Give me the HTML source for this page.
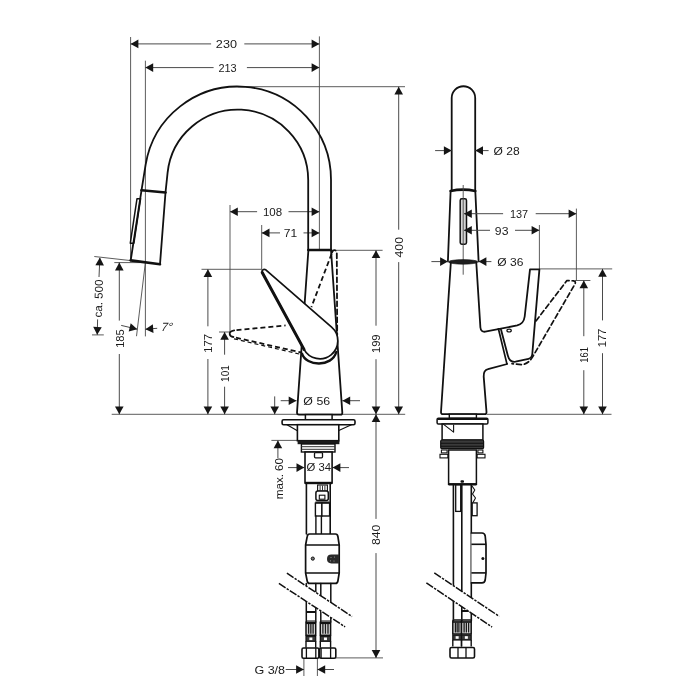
<!DOCTYPE html>
<html><head><meta charset="utf-8"><style>
html,body{margin:0;padding:0;background:#fff;}
svg{display:block;}
.tx{will-change:transform;}
text{font-family:"Liberation Sans",sans-serif;fill:#1a1a1a;}
</style></head><body>
<svg width="700" height="700" viewBox="0 0 700 700">
<rect width="700" height="700" fill="#fff"/>
<line x1="130.6" y1="37" x2="130.6" y2="260.4" stroke="#4a4a4a" stroke-width="0.9" />
<line x1="145.4" y1="60.7" x2="145.4" y2="336.4" stroke="#4a4a4a" stroke-width="0.9" />
<line x1="319.4" y1="36.4" x2="319.4" y2="250" stroke="#4a4a4a" stroke-width="0.9" />
<line x1="238" y1="86.7" x2="405" y2="86.7" stroke="#4a4a4a" stroke-width="0.9" />
<line x1="337" y1="250.3" x2="382.6" y2="250.3" stroke="#4a4a4a" stroke-width="0.9" />
<line x1="111.7" y1="414.3" x2="405.2" y2="414.3" stroke="#4a4a4a" stroke-width="0.9" />
<line x1="335.7" y1="657.9" x2="383" y2="657.9" stroke="#4a4a4a" stroke-width="0.9" />
<line x1="230" y1="205" x2="230" y2="332" stroke="#4a4a4a" stroke-width="0.9" />
<line x1="261.7" y1="225" x2="261.7" y2="269" stroke="#4a4a4a" stroke-width="0.9" />
<line x1="201.5" y1="269.3" x2="262" y2="269.3" stroke="#4a4a4a" stroke-width="0.9" />
<line x1="219" y1="332" x2="231" y2="332" stroke="#4a4a4a" stroke-width="0.9" />
<line x1="114.3" y1="262.6" x2="145.4" y2="262.6" stroke="#4a4a4a" stroke-width="0.9" />
<line x1="94.3" y1="256.5" x2="130.7" y2="260.6" stroke="#4a4a4a" stroke-width="0.9" />
<line x1="92" y1="334.9" x2="103.8" y2="334.9" stroke="#4a4a4a" stroke-width="0.9" />
<line x1="130.6" y1="43.9" x2="211.1" y2="43.9" stroke="#4a4a4a" stroke-width="1.0" />
<line x1="244.3" y1="43.9" x2="319.4" y2="43.9" stroke="#4a4a4a" stroke-width="1.0" />
<polygon points="130.60,43.90 138.40,39.60 138.40,48.20" fill="#151515"/>
<polygon points="319.40,43.90 311.60,48.20 311.60,39.60" fill="#151515"/>
<line x1="145.4" y1="67.6" x2="213.6" y2="67.6" stroke="#4a4a4a" stroke-width="1.0" />
<line x1="246.9" y1="67.6" x2="319.4" y2="67.6" stroke="#4a4a4a" stroke-width="1.0" />
<polygon points="145.40,67.60 153.20,63.30 153.20,71.90" fill="#151515"/>
<polygon points="319.40,67.60 311.60,71.90 311.60,63.30" fill="#151515"/>
<line x1="230" y1="211.7" x2="257.1" y2="211.7" stroke="#4a4a4a" stroke-width="1.0" />
<line x1="288.5" y1="211.7" x2="319.4" y2="211.7" stroke="#4a4a4a" stroke-width="1.0" />
<polygon points="230.00,211.70 237.80,207.40 237.80,216.00" fill="#151515"/>
<polygon points="319.40,211.70 311.60,216.00 311.60,207.40" fill="#151515"/>
<line x1="261.7" y1="232.9" x2="280" y2="232.9" stroke="#4a4a4a" stroke-width="1.0" />
<line x1="303.5" y1="232.9" x2="319.4" y2="232.9" stroke="#4a4a4a" stroke-width="1.0" />
<polygon points="261.70,232.90 269.50,228.60 269.50,237.20" fill="#151515"/>
<polygon points="319.40,232.90 311.60,237.20 311.60,228.60" fill="#151515"/>
<line x1="398.7" y1="86.7" x2="398.7" y2="229.7" stroke="#4a4a4a" stroke-width="1.0" />
<line x1="398.7" y1="262.1" x2="398.7" y2="414.3" stroke="#4a4a4a" stroke-width="1.0" />
<polygon points="398.70,86.70 403.00,94.50 394.40,94.50" fill="#151515"/>
<polygon points="398.70,414.30 394.40,406.50 403.00,406.50" fill="#151515"/>
<line x1="376" y1="250.3" x2="376" y2="325.7" stroke="#4a4a4a" stroke-width="1.0" />
<line x1="376" y1="359.2" x2="376" y2="414.3" stroke="#4a4a4a" stroke-width="1.0" />
<polygon points="376.00,250.30 380.30,258.10 371.70,258.10" fill="#151515"/>
<polygon points="376.00,414.30 371.70,406.50 380.30,406.50" fill="#151515"/>
<line x1="376" y1="414.3" x2="376" y2="518.9" stroke="#4a4a4a" stroke-width="1.0" />
<line x1="376" y1="553.1" x2="376" y2="657.9" stroke="#4a4a4a" stroke-width="1.0" />
<polygon points="376.00,414.30 380.30,422.10 371.70,422.10" fill="#151515"/>
<polygon points="376.00,657.90 371.70,650.10 380.30,650.10" fill="#151515"/>
<line x1="207.9" y1="269.3" x2="207.9" y2="326.3" stroke="#4a4a4a" stroke-width="1.0" />
<line x1="207.9" y1="359.0" x2="207.9" y2="414.3" stroke="#4a4a4a" stroke-width="1.0" />
<polygon points="207.90,269.30 212.20,277.10 203.60,277.10" fill="#151515"/>
<polygon points="207.90,414.30 203.60,406.50 212.20,406.50" fill="#151515"/>
<line x1="224.6" y1="332" x2="224.6" y2="354.7" stroke="#4a4a4a" stroke-width="1.0" />
<line x1="224.6" y1="386.7" x2="224.6" y2="414.3" stroke="#4a4a4a" stroke-width="1.0" />
<polygon points="224.60,332.00 228.90,339.80 220.30,339.80" fill="#151515"/>
<polygon points="224.60,414.30 220.30,406.50 228.90,406.50" fill="#151515"/>
<line x1="119.3" y1="262.6" x2="119.3" y2="320.6" stroke="#4a4a4a" stroke-width="1.0" />
<line x1="119.3" y1="354" x2="119.3" y2="414.3" stroke="#4a4a4a" stroke-width="1.0" />
<polygon points="119.30,262.60 123.60,270.40 115.00,270.40" fill="#151515"/>
<polygon points="119.30,414.30 115.00,406.50 123.60,406.50" fill="#151515"/>
<line x1="99.85" y1="258" x2="99.0" y2="277" stroke="#4a4a4a" stroke-width="1.0" />
<line x1="97.6" y1="319.4" x2="97.25" y2="334.8" stroke="#4a4a4a" stroke-width="1.0" />
<polygon points="99.90,257.50 103.93,265.44 95.34,265.15" fill="#151515"/>
<polygon points="97.20,334.80 93.17,326.86 101.76,327.15" fill="#151515"/>
<line x1="145.4" y1="262.4" x2="136.5" y2="336.2" stroke="#4a4a4a" stroke-width="0.9" />
<line x1="121.2" y1="325.4" x2="137.3" y2="329.2" stroke="#4a4a4a" stroke-width="1.0" />
<polygon points="137.30,329.20 128.72,331.59 130.70,323.22" fill="#151515"/>
<line x1="157.2" y1="328.3" x2="145.4" y2="329.2" stroke="#4a4a4a" stroke-width="1.0" />
<polygon points="145.40,329.20 152.85,324.32 153.50,332.89" fill="#151515"/>
<line x1="280.7" y1="400.7" x2="296.5" y2="400.7" stroke="#4a4a4a" stroke-width="1.0" />
<polygon points="296.50,400.70 288.70,405.00 288.70,396.40" fill="#151515"/>
<line x1="342.4" y1="400.7" x2="360" y2="400.7" stroke="#4a4a4a" stroke-width="1.0" />
<polygon points="342.40,400.70 350.20,396.40 350.20,405.00" fill="#151515"/>
<line x1="274.7" y1="396.4" x2="274.7" y2="414.3" stroke="#4a4a4a" stroke-width="1.0" />
<polygon points="274.70,414.30 270.40,406.50 279.00,406.50" fill="#151515"/>
<line x1="271.4" y1="440.4" x2="297" y2="440.4" stroke="#4a4a4a" stroke-width="0.9" />
<line x1="277.9" y1="440.4" x2="277.9" y2="458" stroke="#4a4a4a" stroke-width="1.0" />
<polygon points="277.90,440.40 282.20,448.20 273.60,448.20" fill="#151515"/>
<line x1="288" y1="467.6" x2="304.3" y2="467.6" stroke="#4a4a4a" stroke-width="1.0" />
<polygon points="304.30,467.60 296.50,471.90 296.50,463.30" fill="#151515"/>
<line x1="332.6" y1="467.6" x2="349" y2="467.6" stroke="#4a4a4a" stroke-width="1.0" />
<polygon points="332.60,467.60 340.40,463.30 340.40,471.90" fill="#151515"/>
<line x1="303.9" y1="658.3" x2="303.9" y2="676" stroke="#4a4a4a" stroke-width="0.9" />
<line x1="317.4" y1="658.3" x2="317.4" y2="676" stroke="#4a4a4a" stroke-width="0.9" />
<line x1="285.7" y1="669.5" x2="303.9" y2="669.5" stroke="#4a4a4a" stroke-width="1.0" />
<polygon points="303.90,669.50 296.10,673.80 296.10,665.20" fill="#151515"/>
<line x1="317.4" y1="669.5" x2="334" y2="669.5" stroke="#4a4a4a" stroke-width="1.0" />
<polygon points="317.40,669.50 325.20,665.20 325.20,673.80" fill="#151515"/>
<path d="M 141.5 190.3 L 145.6 164.9 A 93.3 93.3 0 0 1 331 180 L 331 250" stroke="#111" stroke-width="1.8" fill="none" stroke-linejoin="round" stroke-linecap="round" />
<path d="M 165.5 192.5 L 167.6 172.6 A 70.5 70.5 0 0 1 308.2 180 L 308.2 250" stroke="#111" stroke-width="1.8" fill="none" stroke-linejoin="round" stroke-linecap="round" />
<path d="M 141.5 190.3 L 130.7 260.4" stroke="#111" stroke-width="1.8" fill="none" stroke-linejoin="round" stroke-linecap="round" />
<path d="M 165.5 192.5 L 160 264.3" stroke="#111" stroke-width="1.8" fill="none" stroke-linejoin="round" stroke-linecap="round" />
<path d="M 141.5 190.3 L 165.5 192.5" stroke="#111" stroke-width="2.6" fill="none" stroke-linejoin="round" stroke-linecap="round" />
<path d="M 130.7 260.4 L 160 264.3" stroke="#111" stroke-width="2.6" fill="none" stroke-linejoin="round" stroke-linecap="round" />
<path d="M 137.0 198.7 L 140.6 198.7 L 133.9 243.2 L 130.3 243.2 Z" stroke="#111" stroke-width="1.5" fill="none" stroke-linejoin="round" stroke-linecap="round" />
<path d="M 308.4 250 L 331 250" stroke="#111" stroke-width="2.6" fill="none" stroke-linejoin="round" stroke-linecap="round" />
<path d="M 308.4 250 L 297 412.5 Q 297 414.6 299 414.6 L 340.5 414.6 Q 342.5 414.6 342.3 412.5 L 331 250" stroke="#111" stroke-width="1.8" fill="none" stroke-linejoin="round" stroke-linecap="round" />
<path d="M 332 252.5 Q 332.5 250.2 334.5 250.2 Q 336.8 250.2 336.8 253 L 337.2 335" stroke="#111" stroke-width="1.8" fill="none" stroke-linejoin="round" stroke-linecap="round" stroke-dasharray="5 3"/>
<line x1="331.6" y1="253.8" x2="311.4" y2="307.1" stroke="#111" stroke-width="1.8" stroke-dasharray="5 3"/>
<path d="M 234.2 330.4 Q 229.4 331.2 229.7 334.1 Q 230.1 336.7 233.4 337" stroke="#111" stroke-width="1.8" fill="none" stroke-linejoin="round" stroke-linecap="round" />
<line x1="236.5" y1="330.1" x2="285.6" y2="325.4" stroke="#111" stroke-width="1.8" stroke-dasharray="5 3"/>
<line x1="236" y1="337.7" x2="301" y2="352.4" stroke="#111" stroke-width="1.8" stroke-dasharray="5 3"/>
<line x1="234" y1="338.8" x2="300.5" y2="354.3" stroke="#111" stroke-width="1.2" stroke-dasharray="4 3"/>
<path d="M 262.2 272.5 L 304 349.4 A 18 18 0 1 0 331.6 327.2 L 265.8 269.8 Q 263.5 268.6 262.2 270.5 Z" stroke="#111" stroke-width="1.7" fill="#fff" stroke-linejoin="round" stroke-linecap="round" />
<path d="M 262.2 272.5 L 304 349.4" stroke="#111" stroke-width="3.0" fill="none" stroke-linejoin="round" stroke-linecap="round" />
<path d="M 302 353.7 C 306 366.5 332 367.5 336.3 352" stroke="#111" stroke-width="2.4" fill="none" stroke-linejoin="round" stroke-linecap="round" />
<rect x="305.4" y="414.6" width="26.7" height="5.1" fill="#fff" stroke="#111" stroke-width="1.5"/>
<rect x="282.1" y="419.7" width="72.9" height="5" rx="1.5" fill="#fff" stroke="#111" stroke-width="1.6"/>
<path d="M 287 424.7 L 297.4 430.7" stroke="#111" stroke-width="1.2" fill="none" stroke-linejoin="round" stroke-linecap="round" />
<path d="M 351.4 424.7 L 338.3 430.7" stroke="#111" stroke-width="1.2" fill="none" stroke-linejoin="round" stroke-linecap="round" />
<rect x="297.4" y="424.7" width="41.4" height="16" fill="#fff" stroke="#111" stroke-width="1.6"/>
<rect x="297.6" y="440.4" width="41.8" height="3.8" fill="#1a1a1a"/>
<rect x="301.4" y="444" width="33.6" height="8" fill="#fff" stroke="#111" stroke-width="1.4"/>
<line x1="301.4" y1="446.7" x2="335" y2="446.7" stroke="#333" stroke-width="1.0" />
<line x1="301.4" y1="449.3" x2="335" y2="449.3" stroke="#333" stroke-width="1.0" />
<rect x="305" y="452" width="27.1" height="31" fill="#fff" stroke="#111" stroke-width="1.6"/>
<rect x="314.5" y="452.6" width="8" height="5.2" rx="1" fill="#fff" stroke="#111" stroke-width="1.3"/>
<line x1="305" y1="483" x2="332.1" y2="483" stroke="#111" stroke-width="2.4" />
<line x1="306.4" y1="483" x2="306.4" y2="534" stroke="#111" stroke-width="1.6" stroke-linecap="round"/>
<line x1="330.2" y1="483" x2="330.2" y2="534" stroke="#111" stroke-width="1.6" stroke-linecap="round"/>
<rect x="317.6" y="485" width="9.8" height="6.1" fill="#fff" stroke="#111" stroke-width="1.1"/>
<line x1="320.1" y1="485.5" x2="320.1" y2="490.6" stroke="#333" stroke-width="1.0" />
<line x1="322.5" y1="485.5" x2="322.5" y2="490.6" stroke="#333" stroke-width="1.0" />
<line x1="324.9" y1="485.5" x2="324.9" y2="490.6" stroke="#333" stroke-width="1.0" />
<rect x="315.9" y="491.1" width="12.4" height="9.5" rx="2" fill="#fff" stroke="#111" stroke-width="1.5"/>
<rect x="319.3" y="495.2" width="5.6" height="4" fill="#fff" stroke="#111" stroke-width="1.1"/>
<line x1="315.4" y1="502.2" x2="329.6" y2="502.2" stroke="#111" stroke-width="1.4" />
<rect x="315.4" y="503.1" width="6.5" height="12.9" fill="#fff" stroke="#111" stroke-width="1.4"/>
<rect x="321.9" y="503.1" width="7.7" height="12.9" fill="#fff" stroke="#111" stroke-width="1.4"/>
<line x1="315.9" y1="516" x2="315.9" y2="534" stroke="#111" stroke-width="1.4" stroke-linecap="round"/>
<line x1="321.4" y1="516" x2="321.4" y2="534" stroke="#111" stroke-width="1.4" stroke-linecap="round"/>
<path d="M 309.5 534 L 335.5 534 Q 337.5 534 337.9 536.5 L 339.2 545 L 339.2 573 L 337.9 581 Q 337.5 583.4 335.5 583.4 L 309.5 583.4 Q 307.6 583.4 307.2 581 L 305.6 573 L 305.6 545 L 307.2 536.5 Q 307.6 534 309.5 534 Z" stroke="#111" stroke-width="1.7" fill="#fff" stroke-linejoin="round" stroke-linecap="round" />
<line x1="305.6" y1="545" x2="339.2" y2="545" stroke="#111" stroke-width="1.6" />
<line x1="305.6" y1="573" x2="339.2" y2="573" stroke="#111" stroke-width="1.6" />
<circle cx="312.8" cy="558.6" r="1.6" fill="#777" stroke="#111" stroke-width="1"/>
<path d="M 339.2 554.6 L 331.4 554.6 Q 327 554.6 327 559 Q 327 563.4 331.4 563.4 L 339.2 563.4 Z" fill="#2a2a2a"/>
<circle cx="331" cy="557.5" r="0.6" fill="#999"/><circle cx="334.5" cy="557" r="0.6" fill="#999"/><circle cx="330.5" cy="560.8" r="0.6" fill="#999"/><circle cx="334" cy="561" r="0.6" fill="#999"/>
<line x1="315.8" y1="583.6" x2="315.8" y2="622" stroke="#111" stroke-width="1.5" stroke-linecap="round"/>
<line x1="320.8" y1="583.6" x2="320.8" y2="622" stroke="#111" stroke-width="1.5" stroke-linecap="round"/>
<line x1="330.8" y1="583.6" x2="330.8" y2="622" stroke="#111" stroke-width="1.5" stroke-linecap="round"/>
<line x1="306.3" y1="583.6" x2="306.3" y2="622" stroke="#111" stroke-width="1.5" stroke-linecap="round"/>
<line x1="306" y1="620.9" x2="315.7" y2="620.9" stroke="#222" stroke-width="0.9" />
<rect x="306" y="622.3" width="9.699999999999989" height="13" fill="#d8d8d8" stroke="#111" stroke-width="1.5"/>
<line x1="308.6" y1="623.8" x2="308.6" y2="633.8" stroke="#1a1a1a" stroke-width="1.3" />
<line x1="310.85" y1="623.8" x2="310.85" y2="633.8" stroke="#1a1a1a" stroke-width="1.3" />
<line x1="313.1" y1="623.8" x2="313.1" y2="633.8" stroke="#1a1a1a" stroke-width="1.3" />
<line x1="306" y1="623.5" x2="315.7" y2="623.5" stroke="#111" stroke-width="1.2" />
<rect x="306" y="636.3" width="9.699999999999989" height="5" fill="#3a3a3a" stroke="#111" stroke-width="1.2"/>
<rect x="309.35" y="637.5" width="3" height="2.6" fill="#fff"/>
<line x1="306" y1="641.3" x2="306" y2="647.8" stroke="#111" stroke-width="1.4" />
<line x1="315.7" y1="641.3" x2="315.7" y2="647.8" stroke="#111" stroke-width="1.4" />
<line x1="320.3" y1="620.9" x2="330.6" y2="620.9" stroke="#222" stroke-width="0.9" />
<rect x="320.3" y="622.3" width="10.300000000000011" height="13" fill="#d8d8d8" stroke="#111" stroke-width="1.5"/>
<line x1="322.9" y1="623.8" x2="322.9" y2="633.8" stroke="#1a1a1a" stroke-width="1.3" />
<line x1="325.45" y1="623.8" x2="325.45" y2="633.8" stroke="#1a1a1a" stroke-width="1.3" />
<line x1="328.0" y1="623.8" x2="328.0" y2="633.8" stroke="#1a1a1a" stroke-width="1.3" />
<line x1="320.3" y1="623.5" x2="330.6" y2="623.5" stroke="#111" stroke-width="1.2" />
<rect x="320.3" y="636.3" width="10.300000000000011" height="5" fill="#3a3a3a" stroke="#111" stroke-width="1.2"/>
<rect x="323.95" y="637.5" width="3" height="2.6" fill="#fff"/>
<line x1="320.3" y1="641.3" x2="320.3" y2="647.8" stroke="#111" stroke-width="1.4" />
<line x1="330.6" y1="641.3" x2="330.6" y2="647.8" stroke="#111" stroke-width="1.4" />
<line x1="306" y1="612" x2="315.7" y2="612" stroke="#111" stroke-width="2.0" />
<rect x="302" y="648" width="16.899999999999977" height="10.299999999999955" rx="1.5" fill="#fff" stroke="#111" stroke-width="1.6"/>
<line x1="306.4" y1="648" x2="306.4" y2="658.3" stroke="#111" stroke-width="1.3" />
<line x1="315.8" y1="648" x2="315.8" y2="658.3" stroke="#111" stroke-width="1.3" />
<rect x="319.6" y="648" width="16.19999999999999" height="10.299999999999955" rx="1.5" fill="#fff" stroke="#111" stroke-width="1.6"/>
<line x1="321.1" y1="648" x2="321.1" y2="658.3" stroke="#111" stroke-width="1.3" />
<line x1="330.6" y1="648" x2="330.6" y2="658.3" stroke="#111" stroke-width="1.3" />
<polygon points="286.9,573.1 352,616.6 345.1,626.9 278.9,583.4" fill="#fff"/>
<line x1="286.9" y1="573.1" x2="352" y2="616.6" stroke="#111" stroke-width="1.5" stroke-dasharray="8 1.3 2.4 1.3"/>
<line x1="278.9" y1="583.4" x2="345.1" y2="626.9" stroke="#111" stroke-width="1.5" stroke-dasharray="8 1.3 2.4 1.3"/>
<path d="M 451.7 190.5 L 451.7 98 A 11.75 11.75 0 0 1 475.2 98 L 475.2 190.5" stroke="#111" stroke-width="1.8" fill="none" stroke-linejoin="round" stroke-linecap="round" />
<path d="M 450.6 191 Q 463 188.3 475.3 191" stroke="#111" stroke-width="2.6" fill="none" stroke-linejoin="round" stroke-linecap="round" />
<path d="M 450.6 191 L 447.9 261.4" stroke="#111" stroke-width="1.8" fill="none" stroke-linejoin="round" stroke-linecap="round" />
<path d="M 475.3 191 L 478.6 261.4" stroke="#111" stroke-width="1.8" fill="none" stroke-linejoin="round" stroke-linecap="round" />
<rect x="460.2" y="198.8" width="6.3" height="45.4" rx="1.6" fill="#d4d4d4" stroke="#111" stroke-width="1.5"/>
<line x1="463.2" y1="185" x2="463.2" y2="274.7" stroke="#4a4a4a" stroke-width="0.9" />
<ellipse cx="463.2" cy="261.9" rx="14.6" ry="2.3" fill="#1e1e1e" stroke="#111" stroke-width="0.6"/>
<line x1="435.1" y1="150.6" x2="451.7" y2="150.6" stroke="#4a4a4a" stroke-width="1.0" />
<polygon points="451.70,150.60 443.90,154.90 443.90,146.30" fill="#151515"/>
<line x1="475.2" y1="150.6" x2="488.6" y2="150.6" stroke="#4a4a4a" stroke-width="1.0" />
<polygon points="475.20,150.60 483.00,146.30 483.00,154.90" fill="#151515"/>
<line x1="431.4" y1="261.6" x2="447.9" y2="261.6" stroke="#4a4a4a" stroke-width="1.0" />
<polygon points="447.90,261.60 440.10,265.90 440.10,257.30" fill="#151515"/>
<line x1="478.6" y1="261.6" x2="491.4" y2="261.6" stroke="#4a4a4a" stroke-width="1.0" />
<polygon points="478.60,261.60 486.40,257.30 486.40,265.90" fill="#151515"/>
<line x1="464" y1="213.7" x2="503.1" y2="213.7" stroke="#4a4a4a" stroke-width="1.0" />
<line x1="535.7" y1="213.7" x2="576.4" y2="213.7" stroke="#4a4a4a" stroke-width="1.0" />
<polygon points="464.00,213.70 471.80,209.40 471.80,218.00" fill="#151515"/>
<polygon points="576.40,213.70 568.60,218.00 568.60,209.40" fill="#151515"/>
<line x1="464" y1="230.3" x2="490" y2="230.3" stroke="#4a4a4a" stroke-width="1.0" />
<line x1="515" y1="230.3" x2="539.4" y2="230.3" stroke="#4a4a4a" stroke-width="1.0" />
<polygon points="464.00,230.30 471.80,226.00 471.80,234.60" fill="#151515"/>
<polygon points="539.40,230.30 531.60,234.60 531.60,226.00" fill="#151515"/>
<line x1="539.4" y1="225" x2="539.4" y2="269" stroke="#4a4a4a" stroke-width="0.9" />
<line x1="576.4" y1="208.6" x2="576.4" y2="280.6" stroke="#4a4a4a" stroke-width="0.9" />
<line x1="539.4" y1="268.9" x2="612.2" y2="268.9" stroke="#4a4a4a" stroke-width="0.9" />
<line x1="575" y1="280.5" x2="590.4" y2="280.5" stroke="#4a4a4a" stroke-width="0.9" />
<line x1="486.5" y1="414.3" x2="611.5" y2="414.3" stroke="#4a4a4a" stroke-width="0.9" />
<line x1="602.5" y1="268.9" x2="602.5" y2="320.4" stroke="#4a4a4a" stroke-width="1.0" />
<line x1="602.5" y1="353.2" x2="602.5" y2="414.3" stroke="#4a4a4a" stroke-width="1.0" />
<polygon points="602.50,268.90 606.80,276.70 598.20,276.70" fill="#151515"/>
<polygon points="602.50,414.30 598.20,406.50 606.80,406.50" fill="#151515"/>
<line x1="583.8" y1="280.5" x2="583.8" y2="336.2" stroke="#4a4a4a" stroke-width="1.0" />
<line x1="583.8" y1="370.2" x2="583.8" y2="414.3" stroke="#4a4a4a" stroke-width="1.0" />
<polygon points="583.80,280.50 588.10,288.30 579.50,288.30" fill="#151515"/>
<polygon points="583.80,414.30 579.50,406.50 588.10,406.50" fill="#151515"/>
<path d="M 450.8 263 L 441 412 Q 440.9 414.2 443 414.2 L 484.5 414.2 Q 486.6 414.2 486.5 412 L 483.7 376.6 Q 483.4 370 488 369.1 L 507.2 364" stroke="#111" stroke-width="1.8" fill="none" stroke-linejoin="round" stroke-linecap="round" />
<path d="M 476.3 262.8 L 480.4 327.5 Q 480.9 332.2 485.2 331.7 L 517.2 325.4 Q 523.8 323.8 524.7 316.5 L 530 269.4 L 539.4 269.4 L 532.3 354 Q 531.8 358 528.5 358.8 L 515.5 361.7 Q 509.6 362.6 507.8 355.5 L 500.8 328.8" stroke="#111" stroke-width="1.8" fill="none" stroke-linejoin="round" stroke-linecap="round" />
<path d="M 498.4 328.8 L 506.8 363.4" stroke="#111" stroke-width="1.7" fill="none" stroke-linejoin="round" stroke-linecap="round" />
<ellipse cx="509.1" cy="330.6" rx="2.2" ry="1.4" fill="none" stroke="#111" stroke-width="1.2"/>
<path d="M 536 320.9 L 566.9 280.6 L 573.6 280.8 Q 576.2 281.4 575 284 L 532.6 356.9 Q 528 364.5 521.4 364.6 L 512 363.7" stroke="#111" stroke-width="1.7" fill="none" stroke-linejoin="round" stroke-linecap="round" stroke-dasharray="5 3"/>
<rect x="449.3" y="414.2" width="27.1" height="4.1" fill="#fff" stroke="#111" stroke-width="1.4"/>
<rect x="437.1" y="418.3" width="50.8" height="5.7" rx="1.3" fill="#fff" stroke="#111" stroke-width="1.5"/>
<line x1="437.6" y1="419" x2="487.4" y2="419" stroke="#111" stroke-width="2.2" />
<rect x="442.1" y="424" width="40.8" height="16" fill="#fff" stroke="#111" stroke-width="1.5"/>
<path d="M 443.6 424.4 L 453.6 432.1 L 453.6 425" stroke="#111" stroke-width="1.1" fill="none" stroke-linejoin="round" stroke-linecap="round" />
<rect x="440.7" y="440" width="42.9" height="8.6" rx="1.2" fill="#3a3a3a" stroke="#111" stroke-width="1.2"/>
<line x1="441" y1="443.2" x2="483.3" y2="443.2" stroke="#111" stroke-width="1.1" />
<line x1="441" y1="446.3" x2="483.3" y2="446.3" stroke="#111" stroke-width="1.1" />
<rect x="441.4" y="450" width="5.7" height="2.9" fill="#fff" stroke="#111" stroke-width="1.1"/>
<rect x="477.9" y="450" width="5" height="2.9" fill="#fff" stroke="#111" stroke-width="1.1"/>
<rect x="440" y="454.3" width="7.9" height="3.6" fill="#fff" stroke="#111" stroke-width="1.1"/>
<rect x="477.1" y="454.3" width="7.9" height="3.6" fill="#fff" stroke="#111" stroke-width="1.1"/>
<rect x="448.6" y="450" width="27.8" height="34.3" fill="#fff" stroke="#111" stroke-width="1.5"/>
<line x1="448.6" y1="484.3" x2="476.4" y2="484.3" stroke="#111" stroke-width="2.4" />
<rect x="460.5" y="480.2" width="3.5" height="2.5" rx="1" fill="#111"/>
<line x1="453.4" y1="484.3" x2="453.4" y2="621" stroke="#111" stroke-width="1.6" stroke-linecap="round"/>
<rect x="455.7" y="485" width="5" height="26.4" fill="#fff" stroke="#111" stroke-width="1.3"/>
<line x1="461.8" y1="484.3" x2="461.8" y2="621" stroke="#111" stroke-width="1.6" stroke-linecap="round"/>
<line x1="471.3" y1="484.3" x2="471.3" y2="621" stroke="#111" stroke-width="1.6" stroke-linecap="round"/>
<path d="M 472 486 L 474.8 490 L 472.5 494 L 475.5 498 L 473 502.5" stroke="#111" stroke-width="1.1" fill="none" stroke-linejoin="round" stroke-linecap="round" />
<rect x="472.2" y="502.9" width="4.9" height="12.8" fill="#fff" stroke="#111" stroke-width="1.3"/>
<path d="M 471.4 533 L 482 533 Q 484.6 533 485.2 536 L 486 544.3 L 486 573 L 485.2 580 Q 484.6 582.9 482 582.9 L 471.4 582.9" stroke="#111" stroke-width="1.7" fill="#fff" stroke-linejoin="round" stroke-linecap="round" />
<line x1="471.4" y1="544.3" x2="486" y2="544.3" stroke="#111" stroke-width="1.6" />
<line x1="471.4" y1="572.9" x2="486" y2="572.9" stroke="#111" stroke-width="1.6" />
<circle cx="482.9" cy="558.6" r="1.5" fill="#111"/>
<line x1="452.8" y1="619.6" x2="461.5" y2="619.6" stroke="#222" stroke-width="0.9" />
<rect x="452.8" y="621" width="8.699999999999989" height="13" fill="#d8d8d8" stroke="#111" stroke-width="1.5"/>
<line x1="455.4" y1="622.5" x2="455.4" y2="632.5" stroke="#1a1a1a" stroke-width="1.3" />
<line x1="457.15" y1="622.5" x2="457.15" y2="632.5" stroke="#1a1a1a" stroke-width="1.3" />
<line x1="458.9" y1="622.5" x2="458.9" y2="632.5" stroke="#1a1a1a" stroke-width="1.3" />
<line x1="452.8" y1="622.2" x2="461.5" y2="622.2" stroke="#111" stroke-width="1.2" />
<rect x="452.8" y="635" width="8.699999999999989" height="5" fill="#3a3a3a" stroke="#111" stroke-width="1.2"/>
<rect x="455.65" y="636.2" width="3" height="2.6" fill="#fff"/>
<line x1="452.8" y1="640" x2="452.8" y2="646.5" stroke="#111" stroke-width="1.4" />
<line x1="461.5" y1="640" x2="461.5" y2="646.5" stroke="#111" stroke-width="1.4" />
<line x1="461.5" y1="619.6" x2="471.2" y2="619.6" stroke="#222" stroke-width="0.9" />
<rect x="461.5" y="621" width="9.699999999999989" height="13" fill="#d8d8d8" stroke="#111" stroke-width="1.5"/>
<line x1="464.1" y1="622.5" x2="464.1" y2="632.5" stroke="#1a1a1a" stroke-width="1.3" />
<line x1="466.35" y1="622.5" x2="466.35" y2="632.5" stroke="#1a1a1a" stroke-width="1.3" />
<line x1="468.6" y1="622.5" x2="468.6" y2="632.5" stroke="#1a1a1a" stroke-width="1.3" />
<line x1="461.5" y1="622.2" x2="471.2" y2="622.2" stroke="#111" stroke-width="1.2" />
<rect x="461.5" y="635" width="9.699999999999989" height="5" fill="#3a3a3a" stroke="#111" stroke-width="1.2"/>
<rect x="464.85" y="636.2" width="3" height="2.6" fill="#fff"/>
<line x1="461.5" y1="640" x2="461.5" y2="646.5" stroke="#111" stroke-width="1.4" />
<line x1="471.2" y1="640" x2="471.2" y2="646.5" stroke="#111" stroke-width="1.4" />
<line x1="461.5" y1="611" x2="471.2" y2="611" stroke="#111" stroke-width="2.0" />
<rect x="450" y="647.5" width="24.5" height="10.5" rx="1.5" fill="#fff" stroke="#111" stroke-width="1.6"/>
<line x1="458" y1="647.5" x2="458" y2="658" stroke="#111" stroke-width="1.3" />
<line x1="466" y1="647.5" x2="466" y2="658" stroke="#111" stroke-width="1.3" />
<polygon points="434.3,572.9 499.3,616.4 492.1,627.1 426.4,582.9" fill="#fff"/>
<line x1="434.3" y1="572.9" x2="499.3" y2="616.4" stroke="#111" stroke-width="1.5" stroke-dasharray="8 1.3 2.4 1.3"/>
<line x1="426.4" y1="582.9" x2="492.1" y2="627.1" stroke="#111" stroke-width="1.5" stroke-dasharray="8 1.3 2.4 1.3"/>
<g class="tx"><text x="226.40" y="47.93" text-anchor="middle" font-size="11.5" textLength="21.07" lengthAdjust="spacingAndGlyphs">230</text>
<text x="227.55" y="71.58" text-anchor="middle" font-size="11.5" textLength="18.27" lengthAdjust="spacingAndGlyphs">213</text>
<text x="272.50" y="215.93" text-anchor="middle" font-size="11.5" textLength="19.16" lengthAdjust="spacingAndGlyphs">108</text>
<text x="290.45" y="236.93" text-anchor="middle" font-size="11.5" textLength="13.40" lengthAdjust="spacingAndGlyphs">71</text>
<g transform="translate(399.00,247.25) rotate(-90)"><text x="0" y="3.93" text-anchor="middle" font-size="11.5" textLength="20.49" lengthAdjust="spacingAndGlyphs">400</text></g>
<g transform="translate(376.00,343.75) rotate(-90)"><text x="0" y="3.93" text-anchor="middle" font-size="11.5" textLength="18.56" lengthAdjust="spacingAndGlyphs">199</text></g>
<g transform="translate(376.30,534.85) rotate(-90)"><text x="0" y="3.93" text-anchor="middle" font-size="11.5" textLength="20.48" lengthAdjust="spacingAndGlyphs">840</text></g>
<g transform="translate(207.90,343.30) rotate(-90)"><text x="0" y="3.93" text-anchor="middle" font-size="11.5" textLength="18.66" lengthAdjust="spacingAndGlyphs">177</text></g>
<g transform="translate(224.60,373.55) rotate(-90)"><text x="0" y="3.93" text-anchor="middle" font-size="11.5" textLength="16.76" lengthAdjust="spacingAndGlyphs">101</text></g>
<g transform="translate(119.80,338.60) rotate(-90)"><text x="0" y="3.93" text-anchor="middle" font-size="11.5" textLength="18.56" lengthAdjust="spacingAndGlyphs">185</text></g>
<g transform="translate(98.50,298.50) rotate(-88.1)"><text x="0" y="3.93" text-anchor="middle" font-size="11.5" textLength="37.92" lengthAdjust="spacingAndGlyphs">ca. 500</text></g>
<g transform="translate(160.2,331.4) skewX(-16)"><text x="0" y="0" font-size="12">7°</text></g>
<text x="316.75" y="404.63" text-anchor="middle" font-size="11.5" textLength="26.77" lengthAdjust="spacingAndGlyphs">Ø 56</text>
<g transform="translate(279.30,478.60) rotate(-90)"><text x="0" y="3.93" text-anchor="middle" font-size="11.5" textLength="41.23" lengthAdjust="spacingAndGlyphs">max. 60</text></g>
<text x="318.85" y="471.43" text-anchor="middle" font-size="11.5" textLength="24.58" lengthAdjust="spacingAndGlyphs">Ø 34</text>
<text x="269.75" y="674.23" text-anchor="middle" font-size="11.5" textLength="30.71" lengthAdjust="spacingAndGlyphs">G 3/8</text>
<text x="506.55" y="154.53" text-anchor="middle" font-size="11.5" textLength="26.07" lengthAdjust="spacingAndGlyphs">Ø 28</text>
<text x="510.40" y="266.03" text-anchor="middle" font-size="11.5" textLength="26.07" lengthAdjust="spacingAndGlyphs">Ø 36</text>
<text x="519.05" y="217.93" text-anchor="middle" font-size="11.5" textLength="18.16" lengthAdjust="spacingAndGlyphs">137</text>
<text x="501.65" y="234.63" text-anchor="middle" font-size="11.5" textLength="13.60" lengthAdjust="spacingAndGlyphs">93</text>
<g transform="translate(602.50,338.00) rotate(-90)"><text x="0" y="3.93" text-anchor="middle" font-size="11.5" textLength="18.66" lengthAdjust="spacingAndGlyphs">177</text></g>
<g transform="translate(584.20,354.95) rotate(-90)"><text x="0" y="3.93" text-anchor="middle" font-size="11.5" textLength="15.56" lengthAdjust="spacingAndGlyphs">161</text></g></g>
</svg>
</body></html>
